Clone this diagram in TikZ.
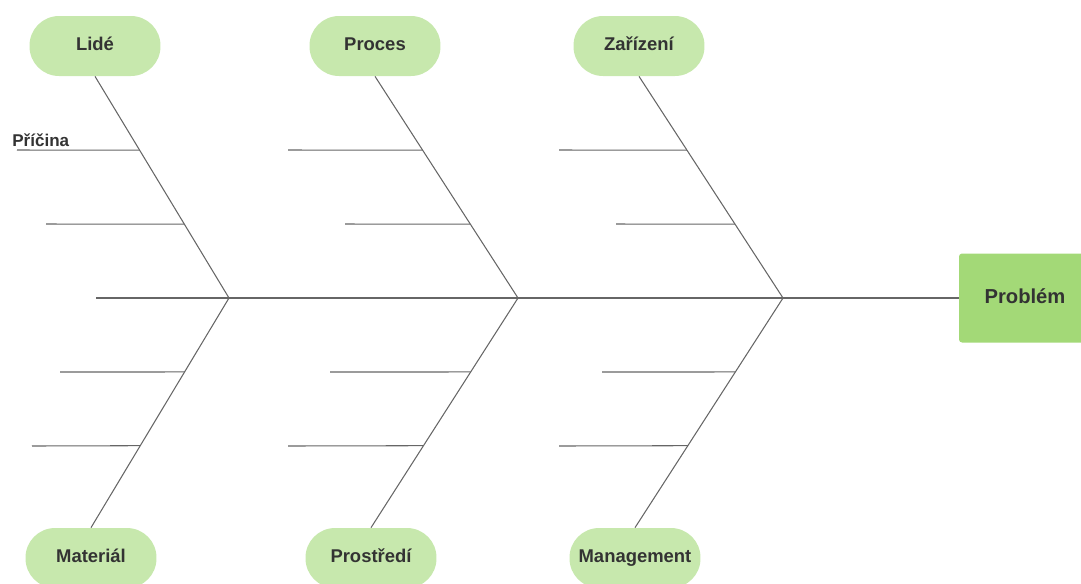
\documentclass[tikz,border=0pt]{standalone}
\usepackage{fontspec}
\setmainfont{Liberation Sans}
\usetikzlibrary{calc,positioning}
\definecolor{catgreen}{HTML}{C7E8AD}
\definecolor{probgreen}{HTML}{A3D977}
\definecolor{txtgray}{HTML}{333333}
\definecolor{bonegray}{HTML}{666666}

\begin{document}
\begin{tikzpicture}[x=0.02cm,y=-0.02cm,
  cat/.style={fill=catgreen,rounded corners=0.59cm,minimum width=2.62cm,minimum height=1.2cm,
    text height=7.6pt,text depth=2.2pt,
    font=\fontsize{10.5}{12}\selectfont\bfseries,text=txtgray},
  problembox/.style={fill=probgreen,rounded corners=0.06cm,minimum width=2.64cm,minimum height=1.78cm,
    text height=8.3pt,text depth=2.4pt,
    font=\fontsize{11.5}{13}\selectfont\bfseries,text=txtgray},
  bone/.style={draw=bonegray,line width=0.6pt}]

\useasboundingbox (0,0) rectangle (1081,583);

% categories
\node [cat] (lide) at (95,46) {Lidé};
\node [cat] (proces) at (375,46) {Proces};
\node [cat] (zarizeni) at (639,46) {Zařízení};
\node [cat] (material) at (91,558) {Materiál};
\node [cat] (prostredi) at (371,558) {Prostředí};
\node [cat] (management) at (635,558) {Management};
\node [problembox] (problem) at (1025,298) {Problém};

% spine
\coordinate (tail) at (96,298);
\draw [bone] (tail) -- (problem.west);

% ribs and causes
\foreach \j/\x/\up/\dn/\xa/\xb/\xc/\xd in
  {j1/229/lide/material/17/46/60/32,
   j2/518/proces/prostredi/288/345/330/288,
   j3/783/zarizeni/management/559/616/602/559}
{
  \coordinate (\j) at (\x,298);
  \draw [bone] (\up.south) -- (\j) -- (\dn.north);
  \coordinate (\j a) at (\xa,150);
  \coordinate (\j b) at (\xb,224);
  \coordinate (\j c) at (\xc,372);
  \coordinate (\j d) at (\xd,446);
  \draw [bone] (\j a) -- ($(\up.south)!0.333!(\j)$);
  \draw [bone] (\j b) -- ($(\up.south)!0.667!(\j)$);
  \draw [bone] (\j c) -- ($(\j)!0.322!(\dn.north)$);
  \draw [bone] (\j d) -- ($(\j)!0.643!(\dn.north)$);
}

\node [anchor=base west,inner sep=0pt,font=\fontsize{9.7}{11}\selectfont\bfseries,text=txtgray]
  (pricina) at (12,146) {Příčina};

\end{tikzpicture}
\end{document}
